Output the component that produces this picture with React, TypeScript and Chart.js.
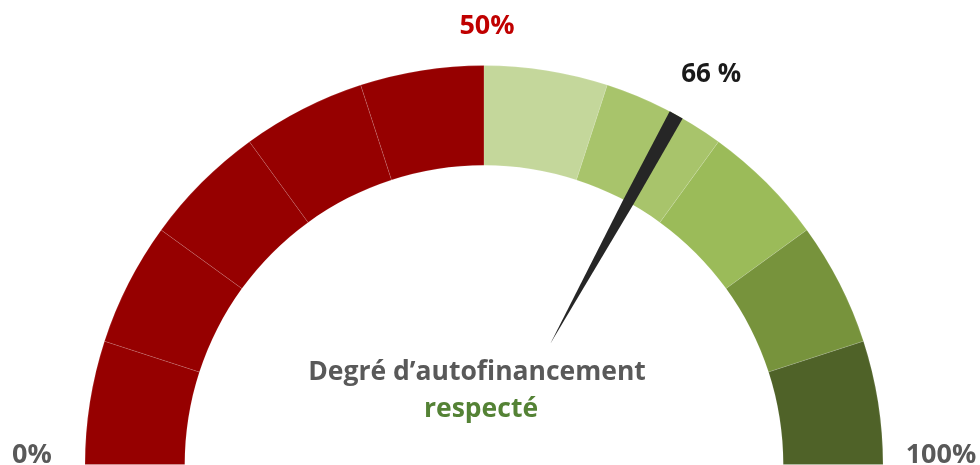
import React, { useEffect, useRef } from "react";
import { Chart, registerables } from "chart.js";

Chart.register(...registerables);

// ---- data ----
const segmentLabels = ["0–10", "10–20", "20–30", "30–40", "40–50", "50–60", "60–70", "70–80", "80–90", "90–100"];
const segmentValues = [10, 10, 10, 10, 10, 10, 10, 10, 10, 10];
const segmentColors = [
  "#960000", "#960000", "#960000", "#960000", "#960000",
  "#c4d79b", "#a8c46b", "#9bbb59", "#77933c", "#4f6228",
];
const needleValue = 66;
const needleText = "66 %";
const minLabel = "0%";
const midLabel = "50%";
const maxLabel = "100%";
const titleLine1 = "Degré d’autofinancement";
const titleLine2 = "respecté";

const FONT = "'Open Sans', 'Liberation Sans', sans-serif";

const gaugePlugin = {
  id: "gaugeExtras",
  afterDatasetsDraw(chart: any) {
    const meta = chart.getDatasetMeta(0);
    const arc = meta.data[0];
    if (!arc) return;
    const { x: cx, y: cy, outerRadius: R, innerRadius: r } = arc.getProps(
      ["x", "y", "outerRadius", "innerRadius"],
      true
    );
    const total = segmentValues.reduce((a, b) => a + b, 0);
    const frac = needleValue / total;
    const a = Math.PI + frac * Math.PI;
    const hw = 0.0185;
    const pt = (rad: number, ang: number) => [cx + rad * Math.cos(ang), cy + rad * Math.sin(ang)];
    const ctx = chart.ctx;
    ctx.save();
    // needle
    const tip = pt(R * 0.345, a);
    const il = pt(r, a - hw);
    const ol = pt(R, a - hw);
    const or = pt(R, a + hw);
    const ir = pt(r, a + hw);
    ctx.beginPath();
    ctx.moveTo(tip[0], tip[1]);
    ctx.lineTo(il[0], il[1]);
    ctx.lineTo(ol[0], ol[1]);
    ctx.lineTo(or[0], or[1]);
    ctx.lineTo(ir[0], ir[1]);
    ctx.closePath();
    ctx.fillStyle = "#262626";
    ctx.fill();

    // labels
    ctx.textBaseline = "alphabetic";
    ctx.font = `bold 27px ${FONT}`;
    ctx.textAlign = "center";
    ctx.fillStyle = "#c00000";
    ctx.fillText(midLabel, cx + 3, cy - R - 32);

    ctx.fillStyle = "#595959";
    ctx.fillText(minLabel, cx - R - 53, cy - 2);
    ctx.fillText(maxLabel, cx + R + 58, cy - 2);

    const tipOuter = pt(R, a);
    ctx.textAlign = "left";
    ctx.fillStyle = "#1a1a1a";
    ctx.font = `bold 26px ${FONT}`;
    ctx.fillText(needleText, tipOuter[0] + 5, tipOuter[1] - 33);

    ctx.textAlign = "center";
    ctx.font = `bold 26.5px ${FONT}`;
    ctx.fillStyle = "#595959";
    ctx.fillText(titleLine1, cx - 7, cy - 85);
    ctx.fillStyle = "#548235";
    ctx.fillText(titleLine2, cx - 3, cy - 48);
    ctx.restore();
  },
};

export default function App() {
  const ref = useRef<HTMLCanvasElement | null>(null);
  useEffect(() => {
    if (!ref.current) return;
    const chart = new Chart(ref.current, {
      type: "doughnut",
      data: {
        labels: segmentLabels,
        datasets: [
          {
            data: segmentValues,
            backgroundColor: segmentColors,
            borderColor: "rgba(255,255,255,0.12)",
            borderWidth: 1,
          },
        ],
      },
      options: {
        responsive: false,
        animation: false,
        rotation: -90,
        circumference: 180,
        cutout: "75%",
        layout: { padding: { left: 0, right: 12, top: 65, bottom: 0 } },
        plugins: {
          legend: { display: false },
          tooltip: { enabled: false },
        },
      },
      plugins: [gaugePlugin],
    });
    return () => chart.destroy();
  }, []);
  return (
    <div style={{ position: "absolute", left: 0, top: 0, width: 980, height: 465, background: "#fff" }}>
      <canvas ref={ref} width={980} height={465} />
    </div>
  );
}
